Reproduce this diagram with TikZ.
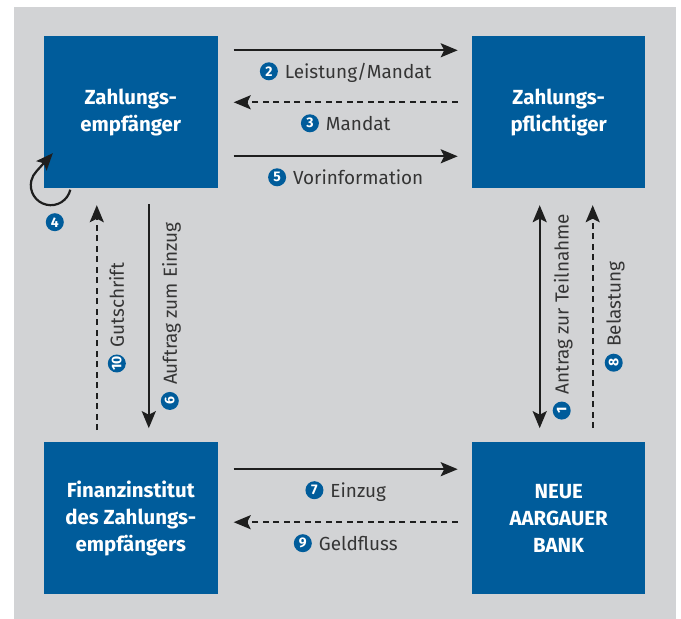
\documentclass[tikz,border=0pt]{standalone}
\usepackage{fontspec}
\setmainfont{Fira Sans}
\usepackage{tikz}
\usetikzlibrary{
	arrows.meta,
	positioning
}
\definecolor{nabblue}{HTML}{005C9B}
\definecolor{lgray}{HTML}{D2D3D5}
\definecolor{ink}{HTML}{1E1E1E}
\tikzset{>={Stealth[length=17bp,width=14bp,inset=3.5bp]}}

\begin{document}
\begin{tikzpicture}[x=1bp,y=1bp,
	party/.style={fill=nabblue,text=white,minimum width=173.5bp,minimum height=151.5bp,
		inner sep=0pt,align=center,font=\bfseries\fontsize{20.5}{27}\selectfont},
	flow/.style={->,line width=2.2bp,draw=ink},
	back/.style={flow,dash pattern=on 6bp off 4.5bp},
	lbl/.style={text=ink!90,font=\fontsize{19}{23}\selectfont,anchor=base,inner sep=0pt},
	badge/.style={circle,fill=nabblue,text=white,inner sep=0pt,minimum size=18bp,
		anchor=center,font=\bfseries\fontsize{14}{14}\selectfont}
]

	% Background
	\fill[lgray] (14,0) rectangle (676,612);
	\useasboundingbox (0,0) rectangle (681,619);

	% Numbered badge in front of a label
	\newcommand\nr[1]{\tikz[baseline=-7bp]\node[badge]{#1};\hspace{7bp}}

	% Parties
		\node[party] (zemp) at (130.75,506.75) {Zahlungs-\\empfänger};
		\node[party, right=254bp of zemp] (zpfl) {Zahlungs-\\pflichtiger};
		\node[party, below=254bp of zemp] (finst) {Finanzinstitut\\des Zahlungs-\\empfängers};
		\node[party, below=254bp of zpfl] (nab) {NEUE\\AARGAUER\\BANK};

	% Top row
		\draw[flow] ([xshift=16bp,yshift=-14bp]zemp.north east) -- ([xshift=-14bp,yshift=-14bp]zpfl.north west)
			node[lbl,midway,yshift=-28bp] {\nr{2}Leistung/Mandat};
		\draw[back] ([xshift=-14bp,yshift=-66bp]zpfl.north west) -- ([xshift=16bp,yshift=-66bp]zemp.north east)
			node[lbl,midway,yshift=-28bp] {\nr{3}Mandat};
		\draw[flow] ([xshift=16bp,yshift=-120bp]zemp.north east) -- ([xshift=-14bp,yshift=-120bp]zpfl.north west)
			node[lbl,midway,yshift=-28bp] {\nr{5}Vorinformation};

	% Bottom row
		\draw[flow] ([xshift=16bp,yshift=-27bp]finst.north east) -- ([xshift=-14bp,yshift=-27bp]nab.north west)
			node[lbl,midway,yshift=-28bp] {\nr{7}Einzug};
		\draw[back] ([xshift=-14bp,yshift=-80bp]nab.north west) -- ([xshift=16bp,yshift=-80bp]finst.north east)
			node[lbl,midway,yshift=-28bp] {\nr{9}Geldfluss};

	% Left column
		\draw[back] ([xshift=53bp,yshift=12bp]finst.north west) -- ([xshift=53bp,yshift=-17bp]zemp.south west)
			node[lbl,midway,xshift=27bp,rotate=90] {\nr{10}Gutschrift};
		\draw[flow] ([xshift=105bp,yshift=-16bp]zemp.south west) -- ([xshift=105bp,yshift=14bp]finst.north west)
			node[lbl,midway,xshift=28bp,rotate=90] {\nr{6}Auftrag zum Einzug};

	% Right column
		\draw[flow,<->] ([xshift=68bp,yshift=14bp]nab.north west) -- ([xshift=68bp,yshift=-17bp]zpfl.south west)
			node[lbl,midway,xshift=29bp,rotate=90] {\nr{1}Antrag zur Teilnahme};
		\draw[back] ([xshift=121bp,yshift=14bp]nab.north west) -- ([xshift=121bp,yshift=-17bp]zpfl.south west)
			node[lbl,midway,xshift=28bp,rotate=90] {\nr{8}Belastung};

	% Loop at the payee
		\draw[flow] ([xshift=26.5bp,yshift=-1.5bp]zemp.south west)
			arc[start angle=-13, end angle=-225, radius=20bp]
			-- ([xshift=9bp,yshift=35bp]zemp.south west);
		\node[badge] (step4) at ([xshift=11bp,yshift=-34bp]zemp.south west) {4};
\end{tikzpicture}
\end{document}
